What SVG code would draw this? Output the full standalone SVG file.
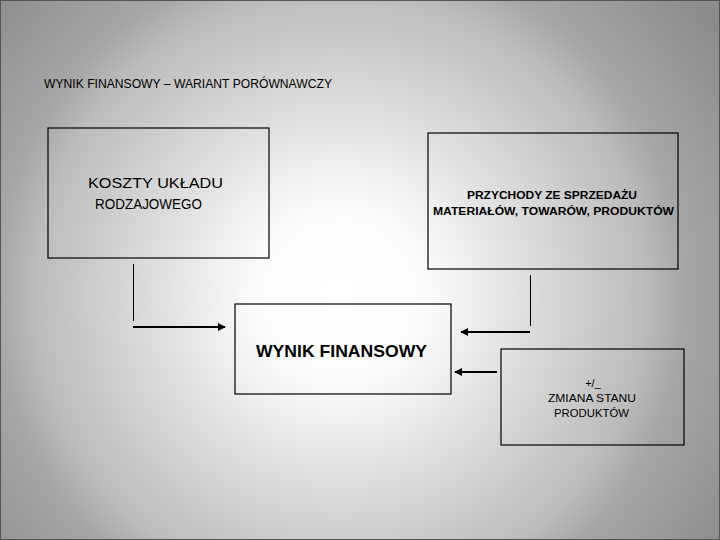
<svg xmlns="http://www.w3.org/2000/svg" width="720" height="540" viewBox="0 0 720 540">
<defs>
<radialGradient id="bg" gradientUnits="userSpaceOnUse" cx="340" cy="295" r="460">
<stop offset="0" stop-color="#ffffff"/>
<stop offset="0.18" stop-color="#fcfcfc"/>
<stop offset="0.66" stop-color="#bcbcbc"/>
<stop offset="0.75" stop-color="#a6a6a6"/>
<stop offset="1" stop-color="#8c8c8c"/>
</radialGradient>
<marker id="ah" viewBox="0 0 10 10" refX="9" refY="5" markerWidth="4" markerHeight="4" orient="auto" markerUnits="strokeWidth">
<path d="M0,0 L10,5 L0,10 z" fill="#000"/>
</marker>
<style>
.box{fill:none;stroke:#000;stroke-width:1.2}
.t{font-family:"Liberation Sans",Arial,sans-serif;fill:#000}
.b{font-weight:bold}
.vl{stroke:#000;stroke-width:1;fill:none}
.ar{stroke:#000;stroke-width:2;fill:none;marker-end:url(#ah)}
</style>
</defs>
<rect x="0" y="0" width="720" height="540" fill="url(#bg)"/>
<rect x="0.5" y="0.5" width="719" height="539" fill="none" stroke="#555" stroke-width="1"/>
<text class="t" x="44" y="88" font-size="12.5" textLength="288" lengthAdjust="spacingAndGlyphs">WYNIK FINANSOWY – WARIANT PORÓWNAWCZY</text>
<g id="koszty">
<rect class="box" x="48" y="128" width="221" height="130"/>
<text class="t" x="88" y="188" font-size="15" textLength="135" lengthAdjust="spacingAndGlyphs">KOSZTY UKŁADU</text>
<text class="t" x="95" y="209" font-size="15" textLength="107" lengthAdjust="spacingAndGlyphs">RODZAJOWEGO</text>
</g>
<g id="przychody">
<rect class="box" x="428" y="133" width="250" height="136"/>
<text class="t b" x="467" y="199" font-size="11" textLength="170" lengthAdjust="spacingAndGlyphs">PRZYCHODY ZE SPRZEDAŻU</text>
<text class="t b" x="433" y="215" font-size="11" textLength="241" lengthAdjust="spacingAndGlyphs">MATERIAŁÓW, TOWARÓW, PRODUKTÓW</text>
</g>
<g id="wynik">
<rect class="box" x="235" y="304" width="216" height="90"/>
<text class="t b" x="256" y="357" font-size="17" textLength="171" lengthAdjust="spacingAndGlyphs">WYNIK FINANSOWY</text>
</g>
<g id="zmiana">
<rect class="box" x="501" y="349" width="183" height="96"/>
<text class="t" x="593" y="387" font-size="11" text-anchor="middle">+/_</text>
<text class="t" x="548" y="402" font-size="11" textLength="88" lengthAdjust="spacingAndGlyphs">ZMIANA STANU</text>
<text class="t" x="554" y="417" font-size="11" textLength="75" lengthAdjust="spacingAndGlyphs">PRODUKTÓW</text>
</g>
<g id="connectors">
<line class="vl" x1="133.5" y1="264" x2="133.5" y2="321"/>
<line class="ar" x1="133" y1="327" x2="225" y2="327"/>
<line class="vl" x1="530.5" y1="275" x2="530.5" y2="326"/>
<line class="ar" x1="530" y1="332" x2="461" y2="332"/>
<line class="ar" x1="497" y1="372" x2="455" y2="372"/>
</g>
</svg>
